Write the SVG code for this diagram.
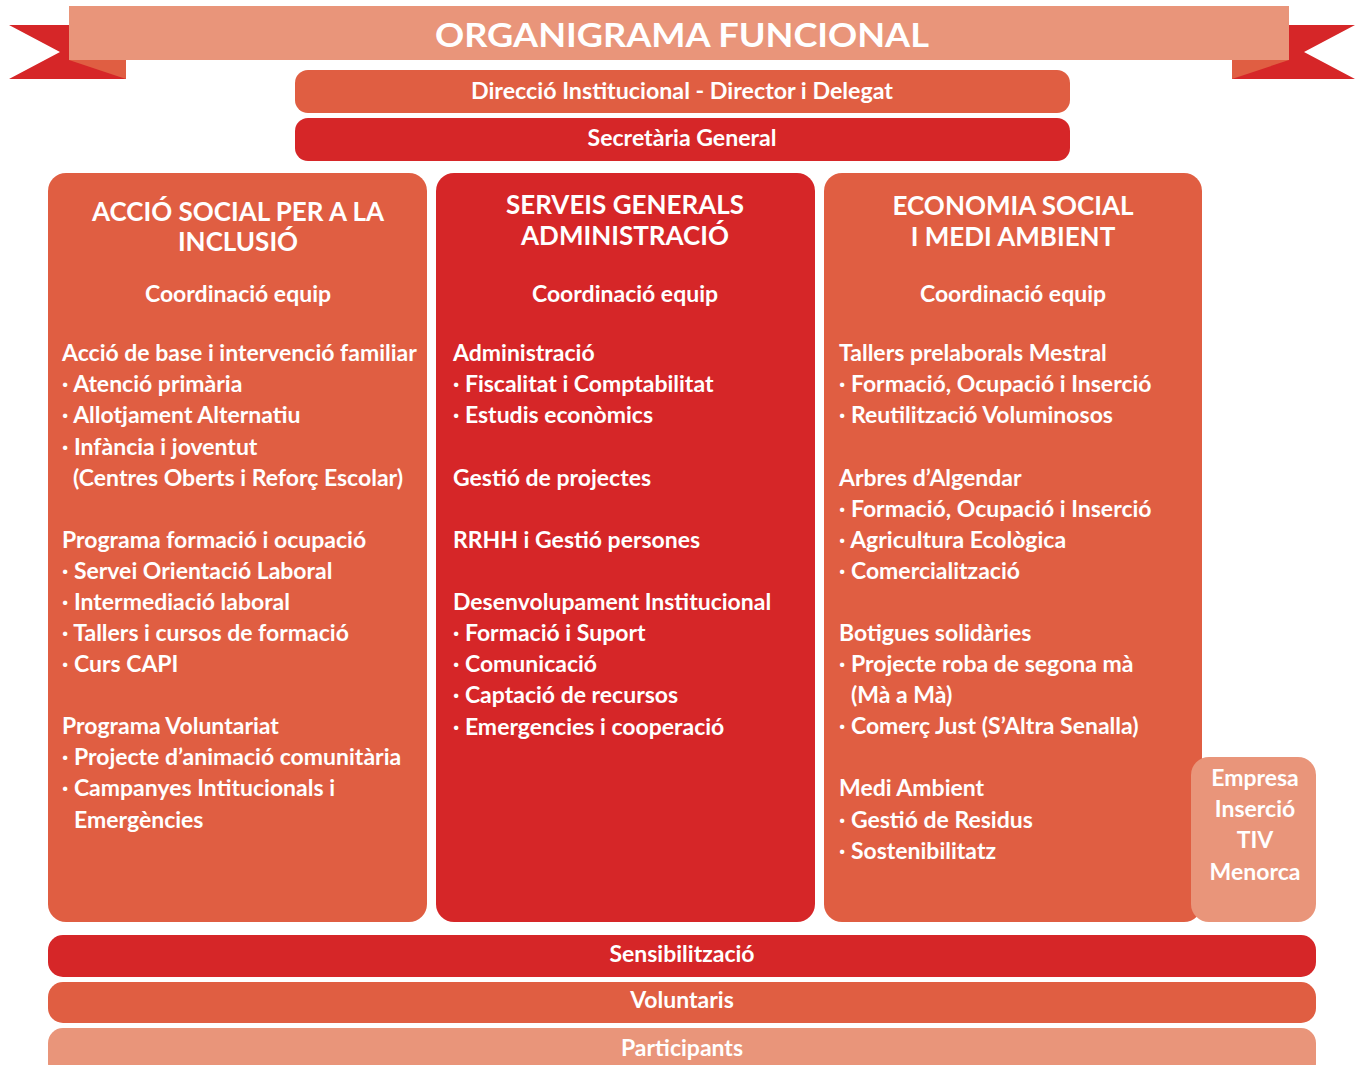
<svg xmlns="http://www.w3.org/2000/svg" width="1355" height="1065" viewBox="0 0 1355 1065">
<style>
.light{fill:#E9957A}
.mid{fill:#E05E42}
.red{fill:#D62628}
text{font-family:Lato,"Open Sans","DejaVu Sans",sans-serif;font-weight:700;fill:#fff}
.t{font-size:23px}
.h{font-size:26px;text-anchor:middle}
.c{font-size:23px;text-anchor:middle}
.bar{font-size:23px;text-anchor:middle}
.cond{font-size:23px;text-anchor:middle}
</style>
<rect width="1355" height="1065" fill="#fff"/>
<g id="banner">
<polygon class="red" points="9,25 126,25 126,79 9,79 60,52"/>
<polygon class="mid" points="69,60 126,60 126,79"/>
<polygon class="red" points="1232,25 1355,25 1304,52 1355,79 1232,79"/>
<polygon class="mid" points="1232,60 1289,60 1232,79"/>
<rect class="light" x="69" y="6" width="1220" height="54"/>
<text x="682" y="47" font-size="33" text-anchor="middle" textLength="494" lengthAdjust="spacingAndGlyphs">ORGANIGRAMA FUNCIONAL</text>
</g>
<g id="direccio">
<rect class="mid" x="295" y="70" width="775" height="43" rx="13"/>
<text class="cond" x="682" y="99" textLength="422" lengthAdjust="spacingAndGlyphs">Direcció Institucional - Director i Delegat</text>
</g>
<g id="secretaria">
<rect class="red" x="295" y="118" width="775" height="43" rx="13"/>
<text class="cond" x="682" y="146" textLength="189" lengthAdjust="spacingAndGlyphs">Secretària General</text>
</g>
<g id="col-accio-social">
<rect class="mid" x="48" y="173" width="379" height="749" rx="18"/>
<text class="h" x="238" y="221">ACCIÓ SOCIAL PER A LA</text>
<text class="h" x="238" y="251">INCLUSIÓ</text>
<text class="c" x="238" y="302">Coordinació equip</text>
<text class="t" x="62" y="361">Acció de base i intervenció familiar</text>
<text class="t" x="62" y="392">· Atenció primària</text>
<text class="t" x="62" y="423">· Allotjament Alternatiu</text>
<text class="t" x="62" y="455">· Infància i joventut</text>
<text class="t" x="73" y="486">(Centres Oberts i Reforç Escolar)</text>
<text class="t" x="62" y="548">Programa formació i ocupació</text>
<text class="t" x="62" y="579">· Servei Orientació Laboral</text>
<text class="t" x="62" y="610">· Intermediació laboral</text>
<text class="t" x="62" y="641">· Tallers i cursos de formació</text>
<text class="t" x="62" y="672">· Curs CAPI</text>
<text class="t" x="62" y="734">Programa Voluntariat</text>
<text class="t" x="62" y="765">· Projecte d’animació comunitària</text>
<text class="t" x="62" y="796">· Campanyes Intitucionals i</text>
<text class="t" x="74" y="828">Emergències</text>
</g>
<g id="col-serveis-generals">
<rect class="red" x="436" y="173" width="379" height="749" rx="18"/>
<text class="h" x="625" y="214">SERVEIS GENERALS</text>
<text class="h" x="625" y="245">ADMINISTRACIÓ</text>
<text class="c" x="625" y="302">Coordinació equip</text>
<text class="t" x="453" y="361">Administració</text>
<text class="t" x="453" y="392">· Fiscalitat i Comptabilitat</text>
<text class="t" x="453" y="423">· Estudis econòmics</text>
<text class="t" x="453" y="486">Gestió de projectes</text>
<text class="t" x="453" y="548">RRHH i Gestió persones</text>
<text class="t" x="453" y="610">Desenvolupament Institucional</text>
<text class="t" x="453" y="641">· Formació i Suport</text>
<text class="t" x="453" y="672">· Comunicació</text>
<text class="t" x="453" y="703">· Captació de recursos</text>
<text class="t" x="453" y="735">· Emergencies i cooperació</text>
</g>
<g id="col-economia-social">
<rect class="mid" x="824" y="173" width="378" height="749" rx="18"/>
<text class="h" x="1013" y="215">ECONOMIA SOCIAL</text>
<text class="h" x="1013" y="246">I MEDI AMBIENT</text>
<text class="c" x="1013" y="302">Coordinació equip</text>
<text class="t" x="839" y="361">Tallers prelaborals Mestral</text>
<text class="t" x="839" y="392">· Formació, Ocupació i Inserció</text>
<text class="t" x="839" y="423">· Reutilització Voluminosos</text>
<text class="t" x="839" y="486">Arbres d’Algendar</text>
<text class="t" x="839" y="517">· Formació, Ocupació i Inserció</text>
<text class="t" x="839" y="548">· Agricultura Ecològica</text>
<text class="t" x="839" y="579">· Comercialització</text>
<text class="t" x="839" y="641">Botigues solidàries</text>
<text class="t" x="839" y="672">· Projecte roba de segona mà</text>
<text class="t" x="851" y="703">(Mà a Mà)</text>
<text class="t" x="839" y="734">· Comerç Just (S’Altra Senalla)</text>
<text class="t" x="839" y="796">Medi Ambient</text>
<text class="t" x="839" y="828">· Gestió de Residus</text>
<text class="t" x="839" y="859">· Sostenibilitatz</text>
</g>
<g id="empresa-insercio">
<rect class="light" x="1191" y="757" width="125" height="165" rx="18"/>
<text class="c" x="1255" y="786">Empresa</text>
<text class="c" x="1255" y="817">Inserció</text>
<text class="c" x="1255" y="848">TIV</text>
<text class="c" x="1255" y="880">Menorca</text>
</g>
<g id="sensibilitzacio">
<rect class="red" x="48" y="935" width="1268" height="42" rx="15"/>
<text class="bar" x="682" y="962">Sensibilització</text>
</g>
<g id="voluntaris">
<rect class="mid" x="48" y="982" width="1268" height="41" rx="15"/>
<text class="bar" x="682" y="1008">Voluntaris</text>
</g>
<g id="participants">
<rect class="light" x="48" y="1028" width="1268" height="50" rx="15"/>
<text class="bar" x="682" y="1056">Participants</text>
</g>
<g id="connectors"/>
</svg>
